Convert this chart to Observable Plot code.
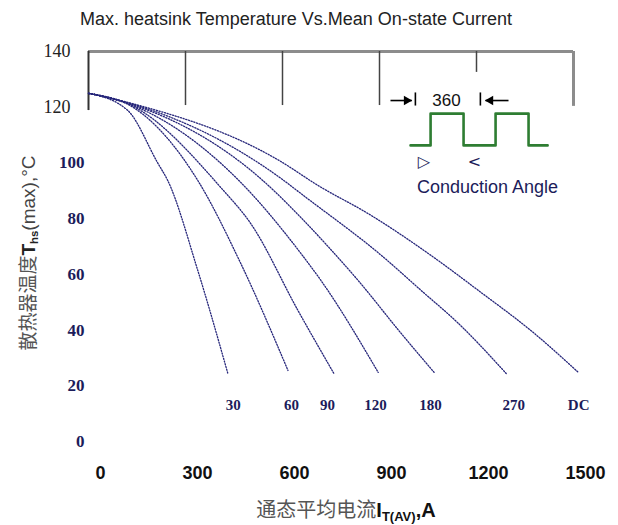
<!DOCTYPE html>
<html><head><meta charset="utf-8">
<script src="https://cdn.jsdelivr.net/npm/d3@7"></script>
<script src="https://cdn.jsdelivr.net/npm/@observablehq/plot@0.6"></script>
<style>
body{margin:0;background:#fff}
#chart{width:618px;height:525px;position:relative}
#chart svg{max-width:none !important;display:block}
</style>
</head><body><div id="chart"></div>
<script>
// ---- data (current A, heatsink temperature °C) ----
const angleNames = ["30","60","90","120","180","270","DC"];
const cur30  = [[0,125],[120,119],[214,100],[245,93.7],[338,61.4],[431,24.4]];
const cur60  = [[0,125],[140,119.8],[338,93.7],[471,63.9],[617,25.5]];
const cur90  = [[0,125],[140,120.2],[409,91.2],[502,78.2],[648,47],[759,24.4]];
const cur120 = [[0,125],[140,120.5],[465,93.7],[657,67.5],[719,57.8],[896,24.8]];
const cur180 = [[0,125],[140,120.8],[539,93.7],[657,80.4],[744,69.6],[834,57.8],[967,38.8],[1069,24.8]];
const cur270 = [[0,125],[140,121],[604,93.7],[657,89],[914,66],[1029,54.2],[1144,42.4],[1292,24.4]];
const curDC  = [[0,125],[139,121.2],[595,100.5],[710,91.9],[865,81.8],[1069,66],[1206,54.2],[1379,38.8],[1515,24.8]];
const labelX = [448,628,739,888,1058,1315,1516];
const labelY = 12.9;

const xTicks = [0,300,600,900,1200,1500];
const yTicksTop = [140,120];
const yTicksLow = [100,80,60,40,20,0];
const gridX = [300,600,900,1200];
const gridLow = [120.6,120.6,120.6,132.5];

// conduction-angle inset (data units)
const waveX = [996,1058,1058,1160,1160,1259,1259,1361,1361,1420];
const waveY = [106.3,106.3,117.7,117.7,106.3,106.3,117.7,117.7,106.3,106.3];

const series = [cur30,cur60,cur90,cur120,cur180,cur270,curDC];
const lineData = series.flatMap((s,i)=>s.map(([x,y])=>({x,y,k:angleNames[i]})));

const plot = Plot.plot({
  width: 618, height: 525,
  marginLeft: 88, marginRight: 45, marginTop: 51, marginBottom: 84,
  style: {maxWidth:"none"},
  x: {domain:[0,1500], axis:null},
  y: {domain:[0,140], axis:null},
  marks: [
    // frame
    Plot.ruleY([140], {x1:0, x2:1500, stroke:"#8c8c8c", strokeWidth:3}),
    Plot.ruleX([0], {y1:118.8, y2:140, stroke:"#333", strokeWidth:2}),
    Plot.ruleX([1500], {y1:120.3, y2:140, stroke:"#8c8c8c", strokeWidth:3}),
    Plot.ruleX(gridX.map((x,i)=>({x, lo:gridLow[i]})), {x:"x", y1:"lo", y2:140, stroke:"#444", strokeWidth:1.5}),
    // curves
    Plot.line(lineData, {x:"x", y:"y", z:"k", curve:"monotone-x", stroke:"#26267a", strokeWidth:1.3, strokeDasharray:"1.2,1.6"}),
    Plot.text(angleNames, {x:(d,i)=>labelX[i], y:()=>labelY, text:d=>d, fontFamily:"Liberation Serif", fontWeight:"bold", fontSize:15, fill:"#1c1c5a"}),
    // y tick labels
    Plot.text(yTicksTop, {y:d=>d, text:d=>String(d), frameAnchor:"left", textAnchor:"end", dx:-18, fontFamily:"Liberation Serif", fontSize:18, fill:"#222"}),
    Plot.text(yTicksLow, {y:d=>d, text:d=>String(d), frameAnchor:"left", textAnchor:"end", dx:-4, fontFamily:"Liberation Serif", fontWeight:"bold", fontSize:17, fill:"#1c1c5a"}),
    // x tick labels
    Plot.axisX({ticks:xTicks, tickSize:0, tickPadding:25, dx:12, label:null, fontSize:18, fontWeight:"bold", fontFamily:"Liberation Sans", fill:"#111", tickFormat:d=>String(d)}),
    // inset: square wave
    Plot.line(waveX.map((x,i)=>({x,y:waveY[i]})), {x:"x", y:"y", stroke:"#2e7d32", strokeWidth:2.6}),
    // inset arrows
    Plot.link([{x1:934,x2:1000,y:122.4},{x1:1228,x2:1299,y:122.4}], {x1:"x1", x2:"x2", y1:"y", y2:"y", stroke:"#000", strokeWidth:1.6}),
    Plot.dot([{x:984,y:122.4,r:90},{x:1243,y:122.4,r:-90}], {x:"x", y:"y", rotate:"r", symbol:"triangle2", r:4.6, fill:"#000"}),
    Plot.link([{x:1011},{x:1212}], {x1:"x", x2:"x", y1:120.6, y2:125.3, stroke:"#000", strokeWidth:1.6}),
    Plot.text(["360"], {x:()=>1107, y:()=>122.4, text:d=>d, fontFamily:"Liberation Sans", fontSize:17, fill:"#111"}),
    Plot.text(["▷", "<"], {x:(d,i)=>[1037,1194][i], y:()=>100.2, text:d=>d, fontFamily:"DejaVu Sans", fontSize:16, fill:"#1c1c5a"}),
    Plot.text(["Conduction Angle"], {x:()=>1234, y:()=>91.2, text:d=>d, fontFamily:"Liberation Sans", fontSize:18, fill:"#1c1c5a"})
  ]
});
plot.style.maxWidth = "none";
document.getElementById("chart").appendChild(plot);

const svg = d3.select(plot);
function fit(sel, target){
  const len = sel.node().getComputedTextLength();
  const fs = parseFloat(sel.attr("font-size"));
  if (len > 0) sel.attr("font-size", fs*target/len);
}
// title
const title = svg.append("text").attr("x", 296).attr("y", 25).attr("text-anchor","middle")
  .attr("font-family","Liberation Sans").attr("font-size",17).attr("fill","#222")
  .text("Max. heatsink Temperature Vs.Mean On-state Current");
fit(title, 432);

// x label
const xl = svg.append("text").attr("x", 346).attr("y", 517).attr("text-anchor","middle")
  .attr("font-size",20).attr("fill","#555");
xl.append("tspan").attr("font-family","Noto Sans CJK SC").text("通态平均电流");
xl.append("tspan").attr("font-family","Liberation Sans").attr("font-weight","bold").attr("fill","#111").text("I");
xl.append("tspan").attr("font-family","Liberation Sans").attr("font-weight","bold").attr("fill","#111").attr("font-size","0.65em").attr("dy","0.3em").text("T(AV)");
xl.append("tspan").attr("font-family","Liberation Sans").attr("font-weight","bold").attr("fill","#111").attr("dy","-0.2em").text(",A");

// y label
const yl = svg.append("text").attr("transform","translate(35,253) rotate(-90)").attr("text-anchor","middle")
  .attr("font-size",19).attr("fill","#555");
yl.append("tspan").attr("font-family","Noto Sans CJK SC").text("散热器温度");
yl.append("tspan").attr("font-family","Liberation Sans").attr("font-weight","bold").attr("fill","#222").text("T");
yl.append("tspan").attr("font-family","Liberation Sans").attr("font-weight","bold").attr("fill","#222").attr("font-size","0.6em").attr("dy","0.3em").text("hs");
yl.append("tspan").attr("font-family","Liberation Sans").attr("fill","#444").attr("dy","-0.2em").text("(max),°C");
</script>
</body></html>
